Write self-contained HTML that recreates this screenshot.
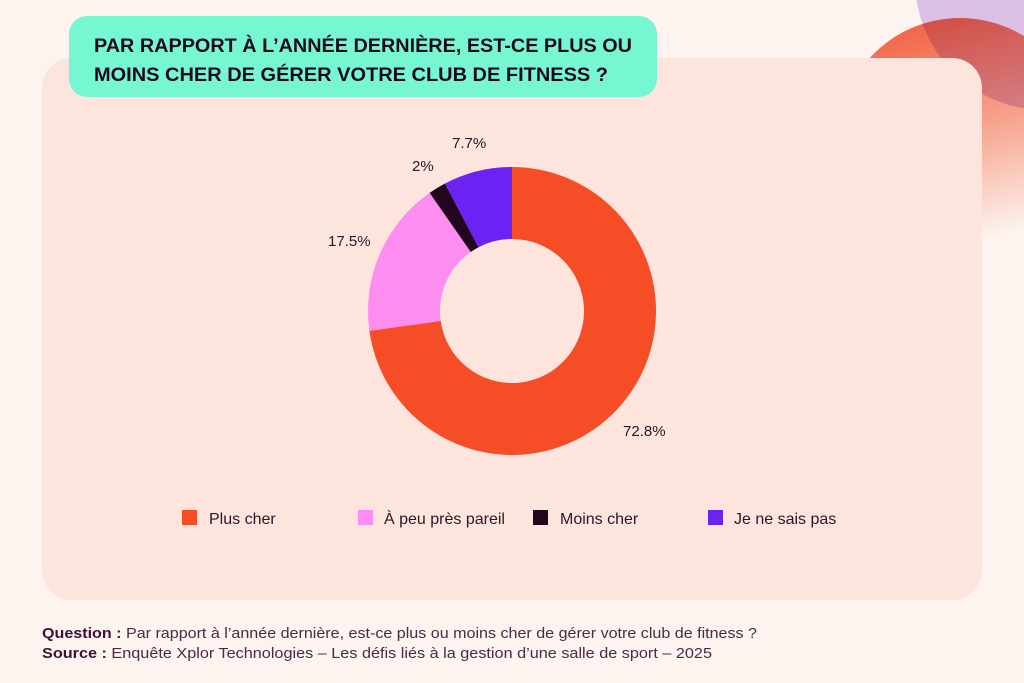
<!DOCTYPE html>
<html><head><meta charset="utf-8"><style>
html,body{margin:0;padding:0;background:#fdf4f0;}
svg{display:block;}
text{font-family:"Liberation Sans",sans-serif;}
</style></head><body>
<svg width="1024" height="683" viewBox="0 0 1024 683" xmlns="http://www.w3.org/2000/svg">
<defs>
<linearGradient id="og" x1="0" y1="0" x2="0.25" y2="1">
<stop offset="0" stop-color="#f2583a"/>
<stop offset="0.55" stop-color="#f6a38c"/>
<stop offset="1" stop-color="#fdf4f0"/>
</linearGradient>
</defs>
<rect width="1024" height="683" fill="#fdf4f0"/>
<circle cx="960" cy="140" r="122" fill="url(#og)"/>
<circle cx="1045" cy="-20" r="130" fill="#ddc9f4" style="mix-blend-mode:multiply"/>
<rect x="42" y="58" width="940" height="542" rx="30" fill="#fde5de"/>
<rect x="69" y="16" width="588" height="81" rx="18" fill="#76f7d2"/>
<text x="94" y="52" font-size="19" font-weight="bold" fill="#1e0a1e" textLength="538" lengthAdjust="spacingAndGlyphs">PAR RAPPORT À L’ANNÉE DERNIÈRE, EST-CE PLUS OU</text>
<text x="94" y="81" font-size="19" font-weight="bold" fill="#1e0a1e" textLength="514" lengthAdjust="spacingAndGlyphs">MOINS CHER DE GÉRER VOTRE CLUB DE FITNESS ?</text>
<path d="M512 167 A144 144 0 1 1 369.4 330.9 L440.7 320.9 A72 72 0 1 0 512 239 Z" fill="#f54e27"/>
<path d="M369.4 330.9 A144 144 0 0 1 429.6 192.9 L470.8 252.0 A72 72 0 0 0 440.7 320.9 Z" fill="#fd8df0"/>
<path d="M429.6 192.9 A144 144 0 0 1 445.0 183.5 L478.5 247.3 A72 72 0 0 0 470.8 252.0 Z" fill="#22051f"/>
<path d="M445.0 183.5 A144 144 0 0 1 512 167 L512 239 A72 72 0 0 0 478.5 247.3 Z" fill="#6c22f2"/>
<g font-size="15" fill="#2a1628">
<text x="623" y="436">72.8%</text>
<text x="328" y="246">17.5%</text>
<text x="412" y="171">2%</text>
<text x="452" y="148">7.7%</text>
</g>
<g font-size="16" fill="#2a1628">
<rect x="182" y="510" width="15" height="15" fill="#f54e27"/><text x="209" y="524">Plus cher</text>
<rect x="358" y="510" width="15" height="15" fill="#fd8df0"/><text x="384" y="524">À peu près pareil</text>
<rect x="533" y="510" width="15" height="15" fill="#22051f"/><text x="560" y="524">Moins cher</text>
<rect x="708" y="510" width="15" height="15" fill="#6c22f2"/><text x="734" y="524">Je ne sais pas</text>
</g>
<text x="42" y="638" font-size="15" fill="#4a2a44" textLength="715" lengthAdjust="spacingAndGlyphs"><tspan font-weight="bold" fill="#3a1432">Question :</tspan> Par rapport à l’année dernière, est-ce plus ou moins cher de gérer votre club de fitness ?</text>
<text x="42" y="658" font-size="15" fill="#4a2a44" textLength="670" lengthAdjust="spacingAndGlyphs"><tspan font-weight="bold" fill="#3a1432">Source :</tspan> Enquête Xplor Technologies – Les défis liés à la gestion d’une salle de sport – 2025</text>
</svg>
</body></html>
